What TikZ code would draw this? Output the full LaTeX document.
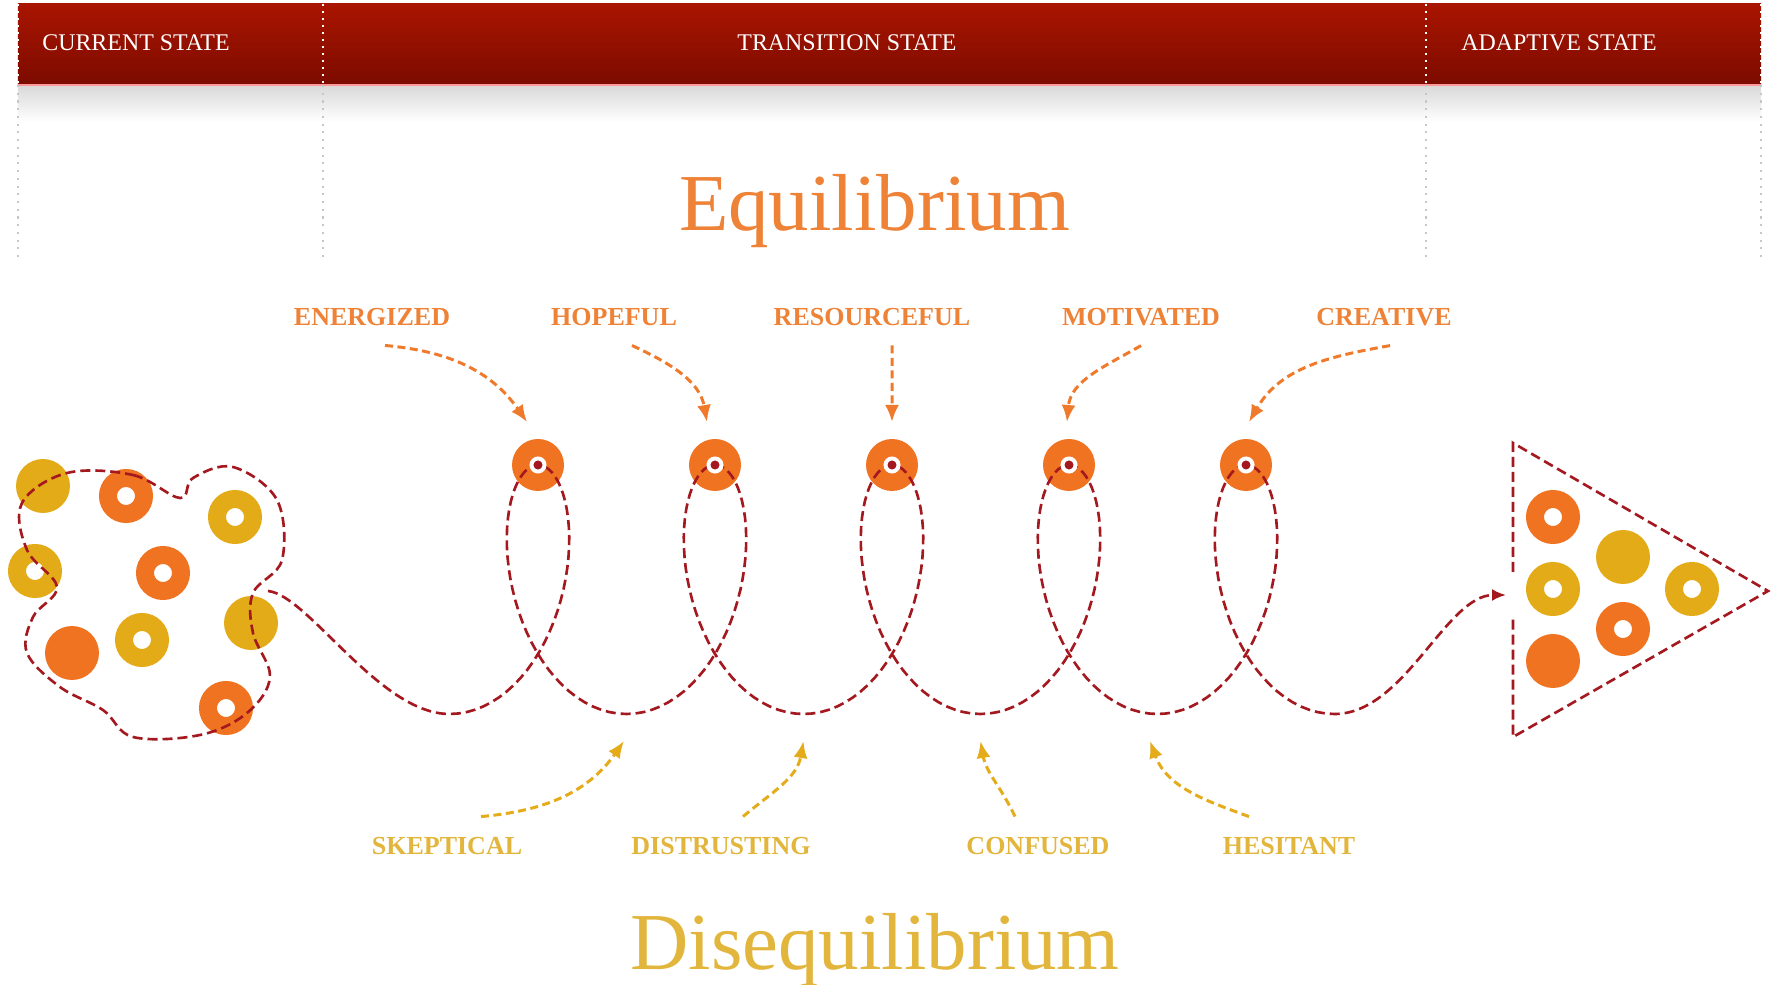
\documentclass[tikz,border=0pt]{standalone}
\usepackage{fontspec}
\setmainfont{Liberation Serif}
\usetikzlibrary{arrows.meta}
\definecolor{barTop}{HTML}{A91500}
\definecolor{barBot}{HTML}{7C0B00}
\definecolor{dotOrange}{HTML}{F07322}
\definecolor{dotYellow}{HTML}{E3AB17}
\definecolor{loopRed}{HTML}{A3191F}
\definecolor{labelOrange}{HTML}{EE8236}
\definecolor{labelYellow}{HTML}{E2B63C}
\definecolor{arrowOrange}{HTML}{F07A2C}
\definecolor{arrowYellow}{HTML}{E4AB1A}
\tikzset{
  dot/.style = {circle, inner sep=0pt, outer sep=0pt},
  disk_o/.style = {dot, fill=dotOrange, minimum size=5.4mm},
  disk_y/.style = {dot, fill=dotYellow, minimum size=5.4mm},
  ring_o/.style = {dot, draw=dotOrange, fill=white, line width=1.8mm, minimum size=3.6mm},
  ring_y/.style = {dot, draw=dotYellow, fill=white, line width=1.8mm, minimum size=3.6mm},
  eq_n/.style = {dot, fill=dotOrange, minimum size=5.2mm},
  eq_c/.style = {dot, fill=loopRed, draw=white, line width=0.4mm, minimum size=1.3mm},
  spiral/.style = {loopRed, line width=0.75pt, dash pattern=on 1mm off 0.5mm},
  arr_eq/.style = {arrowOrange, line width=0.85pt, dash pattern=on 0.8mm off 0.45mm, -{Latex[length=1.7mm,width=1.4mm]}},
  arr_dis/.style = {arrowYellow, line width=0.85pt, dash pattern=on 0.8mm off 0.45mm, -{Latex[length=1.7mm,width=1.4mm]}},
  sep_w/.style = {white, line width=0.6pt, dash pattern=on 0.6pt off 1.4pt},
  sep_g/.style = {black!22, line width=0.5pt, dash pattern=on 0.6pt off 1.6pt},
  hdr/.style = {white, anchor=base, inner sep=1pt, font=\fontsize{6.8}{8}\selectfont},
  lbl_eq/.style = {anchor=base, inner sep=1pt, text=labelOrange, font=\bfseries\fontsize{7.4}{9}\selectfont},
  lbl_dis/.style = {anchor=base, inner sep=1pt, text=labelYellow, font=\bfseries\fontsize{7.4}{9}\selectfont},
  big/.style = {anchor=base, inner sep=0pt, font=\fontsize{23}{28}\selectfont}
}

\begin{document}
\begin{tikzpicture}
	\useasboundingbox (0,0) rectangle (17.75,9.84);
	\shade[top color=barTop, bottom color=barBot] (0.18,8.99) rectangle (17.61,9.80);
	\shade[top color=black!15, bottom color=white] (0.18,8.62) rectangle (17.61,8.99);
	\draw[red!40!white, line width=0.4pt] (0.18,8.99) -- (17.61,8.99);
	\draw[sep_w] (0.18,9.80) -- (0.18,8.99);
	\draw[sep_w] (3.23,9.80) -- (3.23,8.99);
	\draw[sep_w] (14.26,9.80) -- (14.26,8.99);
	\draw[sep_w] (17.61,9.80) -- (17.61,8.99);
	\draw[sep_g] (0.18,8.99) -- (0.18,7.26);
	\draw[sep_g] (3.23,8.99) -- (3.23,7.26);
	\draw[sep_g] (14.26,8.99) -- (14.26,7.26);
	\draw[sep_g] (17.61,8.99) -- (17.61,7.26);

	\node[hdr] (current) at (1.36,9.33) {CURRENT STATE};
	\node[hdr] (transition) at (8.47,9.33) {TRANSITION STATE};
	\node[hdr] (adaptive) at (15.59,9.33) {ADAPTIVE STATE};
	\node[big, text=labelOrange] (equi) at (8.745,7.53) {Equilibrium};
	\node[big, text=labelYellow] (disequi) at (8.75,0.15) {Disequilibrium};

	\node[lbl_eq] (energized) at (3.72,6.58) {ENERGIZED};
	\node[lbl_eq] (hopeful) at (6.14,6.58) {HOPEFUL};
	\node[lbl_eq] (resourceful) at (8.72,6.58) {RESOURCEFUL};
	\node[lbl_eq] (motivated) at (11.41,6.58) {MOTIVATED};
	\node[lbl_eq] (creative) at (13.84,6.58) {CREATIVE};
	\node[lbl_dis] (skeptical) at (4.47,1.30) {SKEPTICAL};
	\node[lbl_dis] (distrusting) at (7.21,1.30) {DISTRUSTING};
	\node[lbl_dis] (confused) at (10.38,1.30) {CONFUSED};
	\node[lbl_dis] (hesitant) at (12.89,1.30) {HESITANT};

	\node[disk_y] (b1) at (0.43,4.98) {};
	\node[ring_o] (b2) at (1.26,4.88) {};
	\node[ring_y] (b3) at (2.35,4.67) {};
	\node[ring_y] (b4) at (0.35,4.13) {};
	\node[ring_o] (b5) at (1.63,4.11) {};
	\node[disk_y] (b6) at (2.51,3.61) {};
	\node[disk_o] (b7) at (0.72,3.31) {};
	\node[ring_y] (b8) at (1.42,3.44) {};
	\node[ring_o] (b9) at (2.26,2.76) {};

	\node[ring_o] (a1) at (15.53,4.67) {};
	\node[disk_y] (a2) at (16.23,4.27) {};
	\node[ring_y] (a3) at (15.53,3.95) {};
	\node[ring_y] (a4) at (16.92,3.95) {};
	\node[ring_o] (a5) at (16.23,3.55) {};
	\node[disk_o] (a6) at (15.53,3.23) {};

	\draw[spiral] plot[smooth cycle, tension=0.6] coordinates {(0.67,5.11) (1.33,5.09) (1.80,4.86) (1.93,5.06) (2.33,5.17) (2.77,4.84) (2.82,4.24) (2.53,3.91) (2.53,3.51) (2.70,3.07) (2.47,2.71) (2.00,2.49) (1.33,2.47) (1.03,2.74) (0.60,2.97) (0.27,3.31) (0.33,3.67) (0.57,3.97) (0.27,4.34) (0.22,4.81)};
	\draw[spiral] (15.13,4.12) -- (15.13,5.41) -- (17.68,3.93) -- (15.13,2.47) -- (15.13,3.67);

	\node[eq_n] (eq1) at (5.38,5.19) {};
	\node[eq_n] (eq2) at (7.15,5.19) {};
	\node[eq_n] (eq3) at (8.92,5.19) {};
	\node[eq_n] (eq4) at (10.69,5.19) {};
	\node[eq_n] (eq5) at (12.46,5.19) {};

	\coordinate (start) at (2.68,3.93);
	\coordinate (tr0) at (4.495,2.70);
	\coordinate (tr1) at (6.265,2.70);
	\coordinate (tr2) at (8.035,2.70);
	\coordinate (tr3) at (9.805,2.70);
	\coordinate (tr4) at (11.575,2.70);
	\coordinate (end) at (15.06,3.89);
	\draw[spiral, -{Latex[length=1.4mm,width=1.2mm]}] (start) .. controls (3.08,3.89) and (3.795,2.70) .. (tr0)
		-- plot[domain=0:1800, samples=361] ({4.495+1.77*\x/360+0.697*sin(\x)}, {3.945-1.245*cos(\x)})
		.. controls (14.045,2.70) and (14.46,3.89) .. (end);

	\node[eq_c] (c1) at (eq1) {};
	\node[eq_c] (c2) at (eq2) {};
	\node[eq_c] (c3) at (eq3) {};
	\node[eq_c] (c4) at (eq4) {};
	\node[eq_c] (c5) at (eq5) {};

	\draw[arr_eq] ([xshift=1.3mm,yshift=-1.5mm]energized.south) to[out=-5,in=125] ([xshift=-1.1mm,yshift=1.7mm]eq1.north);
	\draw[arr_eq] ([xshift=1.8mm,yshift=-1.5mm]hopeful.south) to[out=-25,in=100] ([xshift=-0.8mm,yshift=1.7mm]eq2.north);
	\draw[arr_eq] ([xshift=2.0mm,yshift=-1.5mm]resourceful.south) -- ([yshift=1.7mm]eq3.north);
	\draw[arr_eq] ([yshift=-1.5mm]motivated.south) to[out=210,in=85] ([xshift=-0.2mm,yshift=1.7mm]eq4.north);
	\draw[arr_eq] ([xshift=0.6mm,yshift=-1.5mm]creative.south) to[out=190,in=60] ([xshift=0.3mm,yshift=1.7mm]eq5.north);

	\draw[arr_dis] ([xshift=3.4mm,yshift=1.6mm]skeptical.north) to[out=5,in=235] ([xshift=-0.25mm,yshift=-2.7mm]tr1);
	\draw[arr_dis] ([xshift=2.2mm,yshift=1.6mm]distrusting.north) to[out=40,in=-100] ([yshift=-2.7mm]tr2);
	\draw[arr_dis] ([xshift=-2.3mm,yshift=1.6mm]confused.north) to[out=115,in=-80] ([yshift=-2.7mm]tr3);
	\draw[arr_dis] ([xshift=-4.0mm,yshift=1.6mm]hesitant.north) to[out=160,in=-70] ([xshift=-0.75mm,yshift=-2.7mm]tr4);
\end{tikzpicture}
\end{document}
